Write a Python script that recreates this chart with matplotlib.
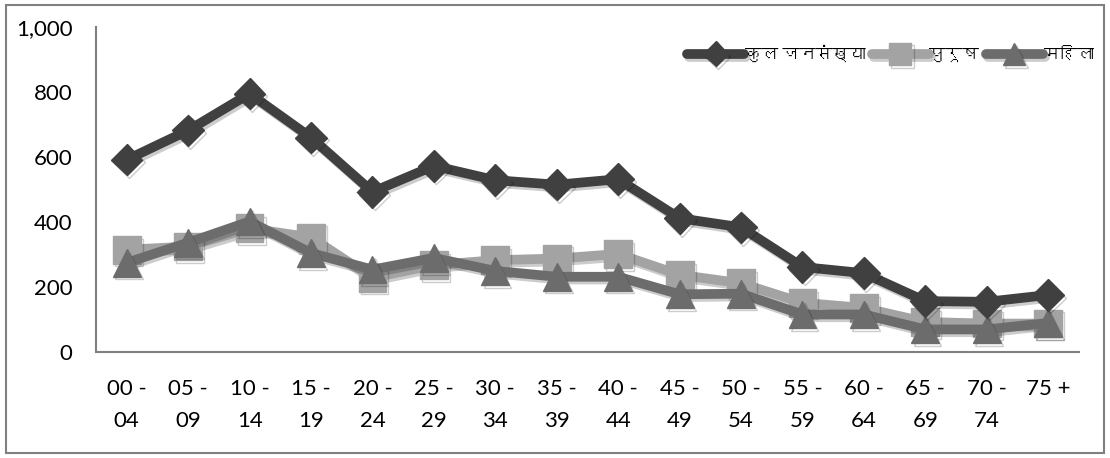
import numpy as np
import matplotlib
matplotlib.use("Agg")
import matplotlib.pyplot as plt
import matplotlib.patheffects as pe
from matplotlib import font_manager
from matplotlib.ft2font import FT2Font

age_groups = ["00 -\n04", "05 -\n09", "10 -\n14", "15 -\n19", "20 -\n24", "25 -\n29",
              "30 -\n34", "35 -\n39", "40 -\n44", "45 -\n49", "50 -\n54", "55 -\n59",
              "60 -\n64", "65 -\n69", "70 -\n74", "75 +"]
total  = [592, 682, 795, 660, 493, 573, 529, 515, 532, 412, 384, 262, 243, 157, 155, 176]
male   = [315, 325, 381, 353, 229, 268, 283, 288, 302, 238, 212, 152, 136, 93, 88, 88]
female = [275, 337, 402, 305, 254, 290, 250, 232, 232, 178, 180, 116, 116, 70, 70, 90]
names  = ["कुल जनसंख्या", "पुरूष", "महिला"]

# find something that can draw devanagari
deva = None
for f in font_manager.fontManager.ttflist:
    try:
        if 0x0915 in FT2Font(f.fname).get_charmap():
            deva = f.name
            break
    except Exception:
        pass
fams = ["Lato", "DejaVu Sans"]
if deva:
    fams = ["Lato", deva, "DejaVu Sans"]
plt.rcParams["font.family"] = fams

fig = plt.figure(figsize=(11.1, 4.58), dpi=100)
ax = fig.add_axes([0.0865, 0.231, 0.8855, 0.71])

x = np.arange(len(age_groups))
shadow = [pe.SimpleLineShadow(offset=(1.5, -2), shadow_color="k", alpha=0.2), pe.Normal()]
ax.plot(x, male, color="#a3a3a3", lw=7, marker="s", ms=20, label=names[1],
        solid_capstyle="round", path_effects=shadow, zorder=2)
ax.plot(x, female, color="#6c6c6c", lw=7, marker="^", ms=20, label=names[2],
        solid_capstyle="round", path_effects=shadow, zorder=3)
ax.plot(x, total, color="#404040", lw=7, marker="D", ms=16, label=names[0],
        solid_capstyle="round", path_effects=shadow, zorder=4)

ax.set_xlim(-0.5, len(age_groups) - 0.5)
ax.set_ylim(0, 1000)
ax.set_yticks(range(0, 1001, 200))
ax.set_yticklabels(["{:,}".format(v) for v in range(0, 1001, 200)])
ax.set_xticks(x)
ax.set_xticklabels(age_groups, linespacing=1.75)
ax.tick_params(length=0, labelsize=16, colors="black")
ax.tick_params(axis="x", pad=19)
ax.tick_params(axis="y", pad=17)
for s in ["top", "right"]:
    ax.spines[s].set_visible(False)
for s in ["left", "bottom"]:
    ax.spines[s].set_color("#808080")
    ax.spines[s].set_linewidth(1.5)

h, l = ax.get_legend_handles_labels()
order = [2, 0, 1]
ax.legend([h[i] for i in order], [l[i] for i in order], loc="upper right",
          bbox_to_anchor=(1.03, 0.99), ncol=3, frameon=False, fontsize=12,
          handlelength=3.4, handletextpad=0.05, columnspacing=0.4, markerscale=0.8)

# outer border
fig.patches.append(plt.Rectangle((0.005, 0.01), 0.99, 0.98, transform=fig.transFigure,
                                 fill=False, edgecolor="#808080", lw=1.5))

fig.savefig("out.png", dpi=100)
